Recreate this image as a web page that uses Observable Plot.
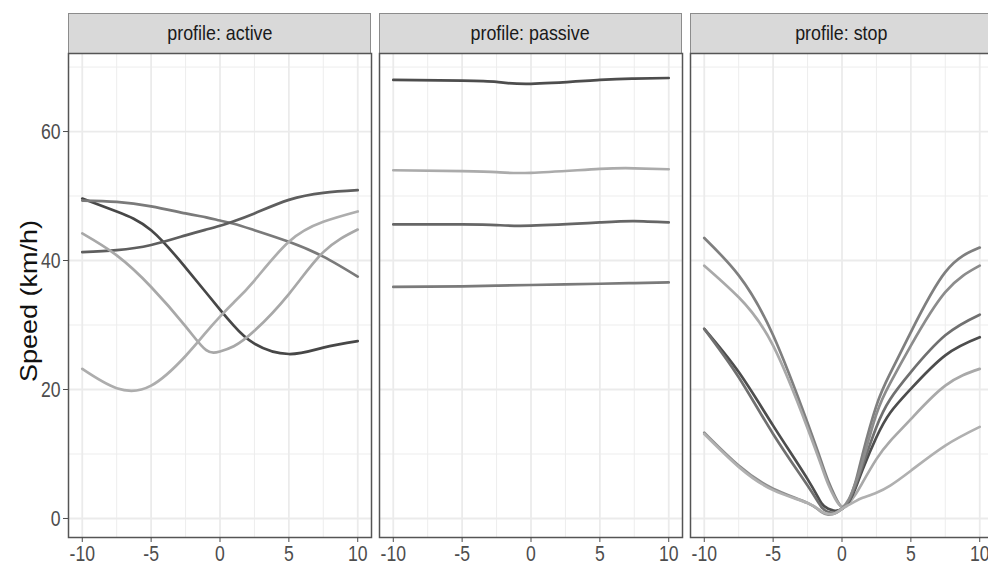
<!DOCTYPE html>
<html><head><meta charset="utf-8">
<script src="https://cdn.jsdelivr.net/npm/d3@7"></script>
<script src="https://cdn.jsdelivr.net/npm/@observablehq/plot@0.6"></script>
<style>
body{margin:0;background:#fff;}
#chart{position:relative;width:988px;height:567px;overflow:hidden;font-family:"Liberation Sans",Arial,sans-serif;}
.strip{position:absolute;top:13px;height:40px;background:#d9d9d9;box-sizing:border-box;border:1px solid #8c8c8c;border-bottom:none;display:flex;align-items:center;justify-content:center;font-size:21px;color:#1a1a1a;padding-bottom:2px;}
.strip span{display:inline-block;transform:scaleX(0.85);white-space:nowrap;}
.panel{position:absolute;top:52px;}
#ytitle{position:absolute;left:30px;top:301px;transform:translate(-50%,-50%) rotate(-90deg) scaleY(0.88);font-family:"Liberation Sans",Arial,sans-serif;font-size:27px;white-space:nowrap;color:#111;}
</style>
</head><body>
<div id="chart"><div id="ytitle">Speed (km/h)</div></div>
<script>
// ---- data ----
const profiles = ["active", "passive", "stop"];
const xTicks = [-10, -5, 0, 5, 10];
const xMinor = [-7.5, -2.5, 2.5, 7.5];
const yTicks = [0, 20, 40, 60];
const yMinor = [10, 30, 50, 70];

const activeX = [-10, -7.5, -5, -2.5, -1, 0, 1, 2.5, 5, 7.5, 10];
const active1 = [49.6, 47.6, 44.7, 38.9, 35.0, 32.4, 29.9, 27.1, 25.5, 26.5, 27.5];
const active2 = [49.3, 49.1, 48.4, 47.3, 46.7, 46.2, 45.7, 44.7, 42.9, 40.6, 37.5];
const active3 = [41.3, 41.6, 42.4, 43.9, 44.8, 45.4, 46.1, 47.3, 49.4, 50.5, 50.9];
const active4 = [44.2, 40.8, 35.9, 29.8, 26.1, 25.9, 26.7, 29.1, 34.8, 41.3, 44.8];
const active5 = [23.2, 20.2, 20.6, 25.2, 28.9, 31.3, 33.5, 36.9, 42.9, 46.0, 47.6];
const activeColors = ["#474747", "#7a7a7a", "#5e5e5e", "#a8a8a8", "#adadad"];

const passiveX = [-10, -5, -2.5, 0, 5, 7.5, 10];
const passive1 = [68.0, 67.9, 67.7, 67.4, 68.0, 68.2, 68.3];
const passive2 = [54.0, 53.85, 53.7, 53.6, 54.2, 54.3, 54.15];
const passive3 = [45.6, 45.6, 45.5, 45.4, 45.9, 46.1, 45.9];
const passive4 = [35.9, 36.0, 36.1, 36.2, 36.4, 36.5, 36.6];
const passiveColors = ["#4d4d4d", "#ababab", "#666666", "#7a7a7a"];

const stopX = [-10, -7.5, -5, -2.5, -1.5, -1, -0.5, 0, 0.5, 1, 1.5, 2.5, 3.5, 5, 7.5, 10];
const stop1 = [43.5, 37.7, 28.4, 14.8, 8.8, 5.8, 3.4, 1.8, 2.8, 5.8, 10.0, 17.5, 22.5, 28.9, 38.2, 42.0];
const stop2 = [39.2, 34.3, 26.8, 14.0, 8.2, 5.3, 3.1, 1.8, 2.4, 3.8, 5.6, 9.2, 12.0, 15.4, 20.6, 23.2];
const stop3 = [29.4, 22.7, 14.4, 6.1, 2.4, 1.5, 1.2, 1.5, 2.6, 4.8, 7.6, 12.6, 16.4, 20.1, 25.3, 28.1];
const stop4 = [29.4, 21.9, 13.1, 5.1, 1.8, 1.0, 0.9, 1.5, 2.7, 5.2, 8.2, 14.2, 18.5, 22.7, 28.4, 31.6];
const stop5 = [13.3, 8.2, 4.6, 2.4, 1.0, 0.6, 0.8, 1.6, 3.0, 5.6, 8.9, 16.2, 21.0, 26.8, 35.1, 39.2];
const stop6 = [13.1, 8.0, 4.4, 2.4, 1.1, 0.7, 0.8, 1.5, 2.1, 2.7, 3.2, 4.0, 5.1, 7.4, 11.3, 14.2];
const stopColors = ["#7f7f7f", "#a9a9a9", "#4d4d4d", "#707070", "#8c8c8c", "#b0b0b0"];

function rows(xs, series, colors) {
  return series.flatMap((ys, k) => ys.map((y, j) => ({id: k, x: xs[j], y, color: colors[k]})));
}
const panelData = [
  rows(activeX, [active1, active2, active3, active4, active5], activeColors),
  rows(passiveX, [passive1, passive2, passive3, passive4], passiveColors),
  rows(stopX, [stop1, stop2, stop3, stop4, stop5, stop6], stopColors)
];

// ---- layout ----
const panelLefts = [68, 378.5, 689.5];
const panelW = 303, panelH = 484;
const chart = document.getElementById("chart");

function condense(svg, k) {
  svg.querySelectorAll('g[aria-label$="tick label"] text').forEach(t => {
    const b = t.getBBox();
    const anchor = t.getAttribute("text-anchor") || t.parentNode.getAttribute("text-anchor") || "middle";
    const ax = anchor === "end" ? b.x + b.width : anchor === "start" ? b.x : b.x + b.width / 2;
    const tr = t.getAttribute("transform") || "";
    t.setAttribute("transform", `${tr} translate(${ax},0) scale(${k},1) translate(${-ax},0)`);
  });
}

profiles.forEach((p, i) => {
  const strip = document.createElement("div");
  strip.className = "strip";
  strip.style.left = panelLefts[i] + "px";
  strip.style.width = panelW + "px";
  const span = document.createElement("span");
  span.textContent = "profile: " + p;
  strip.appendChild(span);
  chart.appendChild(strip);

  const ml = i === 0 ? 68 : 2, mr = 2, mt = 1, mb = 34;
  const marks = [
    Plot.gridX(xMinor, {stroke: "#ededed", strokeOpacity: 1, strokeWidth: 1}),
    Plot.gridY(yMinor, {stroke: "#ededed", strokeOpacity: 1, strokeWidth: 1}),
    Plot.gridX(xTicks, {stroke: "#ebebeb", strokeOpacity: 1, strokeWidth: 1.8}),
    Plot.gridY(yTicks, {stroke: "#ebebeb", strokeOpacity: 1, strokeWidth: 1.8}),
    Plot.line(panelData[i], {x: "x", y: "y", z: "id", stroke: "color", strokeWidth: 2.7, curve: "natural"}),
    Plot.frame({stroke: "#555", strokeWidth: 1.5}),
    Plot.axisX(xTicks, {tickSize: 5, tickPadding: 3, fontSize: 22, color: "#4d4d4d", tickFormat: d => String(d), label: null})
  ];
  if (i === 0) marks.push(Plot.axisY(yTicks, {tickSize: 5, tickPadding: 3, fontSize: 22, color: "#4d4d4d", tickFormat: d => String(d), label: null}));
  const svg = Plot.plot({
    width: ml + panelW + mr,
    height: mt + panelH + mb,
    marginLeft: ml, marginRight: mr, marginTop: mt, marginBottom: mb,
    x: {domain: [-11, 11]},
    y: {domain: [-2.95, 72.1], axis: i === 0 ? undefined : null},
    style: {fontFamily: '"Liberation Sans",Arial,sans-serif', background: "transparent", overflow: "visible"},
    marks
  });
  svg.classList.add("panel");
  svg.style.left = (panelLefts[i] - ml) + "px";
  chart.appendChild(svg);
  condense(svg, 0.8);
});
</script>
</body></html>
